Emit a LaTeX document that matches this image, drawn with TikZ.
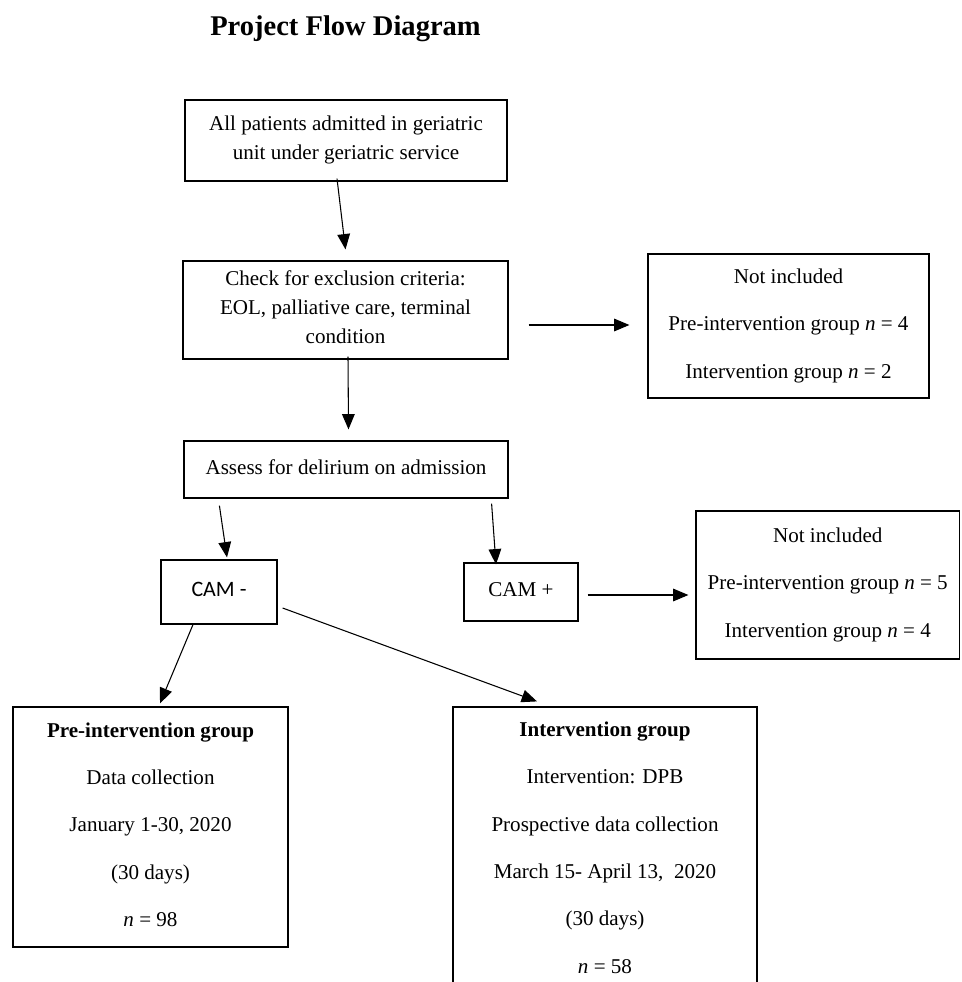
\documentclass[tikz,border=0pt]{standalone}
\usepackage{fontspec}
\setmainfont{Liberation Serif}
\newfontfamily\calib{Carlito}
\usetikzlibrary{arrows.meta,calc}
\def\L{\rule[-4pt]{0pt}{15pt}}
\tikzset{
  box/.style={draw=black, line width=0.9pt, rectangle, inner sep=0pt, align=center,
    font=\fontsize{15.8}{21.75}\selectfont},
  wide/.style={font=\fontsize{15.8}{35.5}\selectfont},
  arr/.style={draw=black, line width=0.8pt, -{Triangle[length=11.5pt,width=9.5pt]}}
}
\begin{document}
\begin{tikzpicture}[x=0.75pt,y=-0.75pt]
\useasboundingbox (0,0) rectangle (961,982);
\clip (0,0) rectangle (961,982);
\fill[white] (0,0) rectangle (961,982);

\node[anchor=base, font=\fontsize{21.4}{26}\selectfont\bfseries] (title) at (345.5,35) {Project Flow Diagram};

\node[box, minimum width=322*0.75pt, minimum height=81*0.75pt] (b1) at (346,140.5)
  {\L All patients admitted in geriatric\\\L unit under geriatric service};
\node[box, minimum width=325*0.75pt, minimum height=98*0.75pt] (b2) at (345.5,310)
  {\L Check for exclusion criteria:\\\L EOL, palliative care, terminal\\\L condition};
\node[box, minimum width=324*0.75pt, minimum height=57*0.75pt] (b3) at (346,469.5)
  {\L Assess for delirium on admission};
\node[box, wide, minimum width=281*0.75pt, minimum height=144*0.75pt] (n1) at (788.5,326)
  {\L Not included\\\L Pre-intervention group \textit{n} = 4\\\L Intervention group \textit{n} = 2};
\node[box, minimum width=116*0.75pt, minimum height=64*0.75pt, font=\calib\fontsize{16.5}{20}\selectfont] (cm) at (219,592)
  {\L CAM -};
\node[box, minimum width=114*0.75pt, minimum height=58*0.75pt] (cp) at (521,592)
  {\raisebox{3pt}{CAM +}};
\node[box, wide, minimum width=263.5*0.75pt, minimum height=148*0.75pt] (n2) at (827.75,585)
  {\L Not included\\\L Pre-intervention group \textit{n} = 5\\\L Intervention group \textit{n} = 4};
\node[box, wide, minimum width=275*0.75pt, minimum height=240*0.75pt] (pre) at (150.5,827)
  {\L\textbf{Pre-intervention group}\\\L Data collection\\\L January 1-30, 2020\\\L (30 days)\\\L \textit{n} = 98};
\node[box, wide, minimum width=304*0.75pt, minimum height=286*0.75pt] (int) at (605,850)
  {\L\textbf{Intervention group}\\\L Intervention: DPB\\\L Prospective data collection\\\L March 15- April 13,\ \ 2020\\\L (30 days)\\\L \textit{n} = 58};

\draw[arr] ($(b1.south)+(-9,-3)$) -- ($(b2.north)+(0,-11)$);
\draw[arr] ($(b2.east)+(20,15)$) -- ($(n1.west)+(-18,-1)$);
\draw[arr] ($(b2.south)+(2.5,-3)$) -- ($(b3.north)+(2.5,-11)$);
\draw[arr] ($(b3.south west)+(36,7)$) -- ($(cm.north)+(8,-2)$);
\draw[arr] ($(b3.south east)+(-17,5)$) -- ($(cp.north)+(-25,2)$);
\draw[arr] ($(cp.east)+(9,3)$) -- ($(n2.west)+(-7,10)$);
\draw[arr] ($(cm.south)+(-26,0)$) -- ($(pre.north)+(9.5,-3)$);
\draw[arr] ($(cm.east)+(5,16)$) -- ($(int.north)+(-68,-5)$);
\end{tikzpicture}
\end{document}
